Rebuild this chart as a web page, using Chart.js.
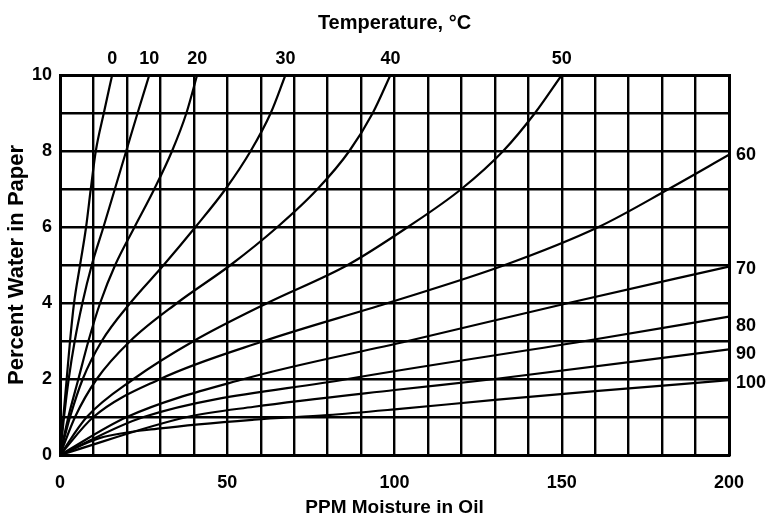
<!DOCTYPE html>
<html>
<head>
<meta charset="utf-8">
<script src="https://cdn.jsdelivr.net/npm/chart.js@4.4.1/dist/chart.umd.min.js"></script>
<style>
  html, body { margin: 0; padding: 0; background: #fff; }
  #wrap { width: 769px; height: 520px; position: relative; }
</style>
</head>
<body>
<div id="wrap"><canvas id="c"></canvas></div>
<script>
// ---- Data ----
const temps = [0, 10, 20, 30, 40, 50, 60, 70, 80, 90, 100];

const ppm_0C   = [0, 1, 2, 3, 4.2, 6, 7.8, 9.2, 10.7, 13.1, 15.6];
const pct_0C   = [0, 1, 2, 3, 4, 5, 6, 7, 8, 9, 10];
const ppm_10C  = [0, 1.2, 2.6, 4.4, 6.7, 9.5, 13, 16.4, 19.8, 23.2, 26.7];
const pct_10C  = [0, 1, 2, 3, 4, 5, 6, 7, 8, 9, 10];
const ppm_20C  = [0, 2.5, 5.5, 8.5, 12, 16.5, 22.3, 28.2, 33.5, 37.8, 41];
const pct_20C  = [0, 1, 2, 3, 4, 5, 6, 7, 8, 9, 10];
const ppm_30C  = [0, 3, 6.8, 12.5, 21, 31, 40.5, 49.5, 57, 63, 67.4];
const pct_30C  = [0, 1, 2, 3, 4, 5, 6, 7, 8, 9, 10];
const ppm_40C  = [0, 4.5, 11, 21, 35, 51, 65, 77, 86.5, 93.5, 98.8];
const pct_40C  = [0, 1, 2, 3, 4, 5, 6, 7, 8, 9, 10];
const ppm_50C  = [0, 8, 22, 40, 62, 86, 104, 120, 132.5, 142, 150];
const pct_50C  = [0, 1, 2, 3, 4, 5, 6, 7, 8, 9, 10];
const ppm_60C  = [0, 10, 30, 61, 98, 133, 161, 182, 200];
const pct_60C  = [0, 1, 2, 3, 4, 5, 6, 7, 7.9];
const ppm_70C  = [0, 20, 55, 104, 152, 200];
const pct_70C  = [0, 1, 2, 3, 4, 4.96];
const ppm_80C  = [0, 25, 86, 157, 200];
const pct_80C  = [0, 1, 2, 3, 3.64];
const ppm_90C  = [0, 38, 58, 100, 130, 200];
const pct_90C  = [0, 1, 1.27, 1.71, 2, 2.78];
const ppm_100C = [0, 12, 30, 58, 80, 100, 130, 160, 200];
const pct_100C = [0, 0.45, 0.7, 0.93, 1.05, 1.2, 1.45, 1.68, 1.97];

const ppmSeries = [ppm_0C, ppm_10C, ppm_20C, ppm_30C, ppm_40C, ppm_50C, ppm_60C, ppm_70C, ppm_80C, ppm_90C, ppm_100C];
const pctSeries = [pct_0C, pct_10C, pct_20C, pct_30C, pct_40C, pct_50C, pct_60C, pct_70C, pct_80C, pct_90C, pct_100C];

// temperature labels: top labels sit at the curve ends (0..50 °C),
// right labels for 60..100 °C sit at these percent values
const topTemps = [0, 10, 20, 30, 40, 50];
const rightTemps = [60, 70, 80, 90, 100];
const rightLabelPct = [7.9, 4.9, 3.4, 2.65, 1.9];

const xTickLabels = [0, 50, 100, 150, 200];
const yTickLabels = [0, 2, 4, 6, 8, 10];

const titleTop = 'Temperature, °C';
const titleX = 'PPM Moisture in Oil';
const titleY = 'Percent Water in Paper';

// ---- Chart ----
const topLabelPpm = topTemps.map(t => { const a = ppmSeries[temps.indexOf(t)]; return a[a.length - 1]; });

const FONT = 'Liberation Sans, Arial, Helvetica, sans-serif';
Chart.defaults.font.family = FONT;
Chart.defaults.color = '#000';

const datasets = temps.map((t, i) => ({
  label: t + ' °C',
  data: ppmSeries[i].map((x, j) => ({ x: x, y: pctSeries[i][j] })),
  borderColor: '#000',
  borderWidth: 2.2,
  pointRadius: 0,
  fill: false,
  cubicInterpolationMode: 'monotone',
  xAxisID: 'x',
  yAxisID: 'y'
}));

const gridStyle = { color: '#000', lineWidth: 2.4, drawTicks: false };
const borderStyle = { display: true, color: '#000', width: 3 };
const tickFont = { size: 18, weight: 'bold' };
const titleFont = { size: 19, weight: 'bold' };

new Chart(document.getElementById('c'), {
  type: 'line',
  data: { datasets: datasets },
  options: {
    responsive: true,
    maintainAspectRatio: false,
    animation: false,
    layout: { padding: 0 },
    plugins: { legend: { display: false }, tooltip: { enabled: false } },
    scales: {
      x: {
        type: 'linear', position: 'bottom', min: 0, max: 200,
        grid: gridStyle, border: borderStyle,
        ticks: {
          stepSize: 10, autoSkip: false, maxRotation: 0, padding: 17, font: tickFont, color: '#000',
          callback: v => xTickLabels.includes(v) ? String(v) : ''
        },
        title: { display: true, text: titleX, font: titleFont, color: '#000', padding: { top: 0, bottom: 0.6 } },
        afterFit: s => { s.height = 65; }
      },
      x2: {
        type: 'linear', position: 'top', min: 0, max: 200,
        grid: { display: false, drawTicks: false }, border: borderStyle,
        afterBuildTicks: s => { s.ticks = topLabelPpm.map(v => ({ value: v })); },
        ticks: {
          autoSkip: false, maxRotation: 0, padding: 5, font: tickFont, color: '#000',
          callback: (v, i) => String(topTemps[i])
        },
        title: { display: true, text: titleTop, font: { size: 20, weight: 'bold' }, color: '#000', padding: { top: 11, bottom: 0 } },
        afterFit: s => { s.height = 75; }
      },
      y: {
        type: 'linear', position: 'left', min: 0, max: 10,
        grid: gridStyle, border: borderStyle,
        ticks: {
          stepSize: 1, autoSkip: false, padding: 8, font: tickFont, color: '#000',
          callback: v => yTickLabels.includes(v) ? String(v) : ''
        },
        title: { display: true, text: titleY, font: { size: 22, weight: 'bold' }, color: '#000', padding: { top: 4, bottom: 0 } },
        afterFit: s => { s.width = 60; }
      },
      y2: {
        type: 'linear', position: 'right', min: 0, max: 10,
        grid: { display: false, drawTicks: false }, border: borderStyle,
        afterBuildTicks: s => { s.ticks = rightLabelPct.map(v => ({ value: v })); },
        ticks: {
          autoSkip: false, padding: 7, font: tickFont, color: '#000',
          callback: (v, i) => String(rightTemps[i])
        },
        afterFit: s => { s.width = 40; }
      }
    }
  }
});
</script>
</body>
</html>
